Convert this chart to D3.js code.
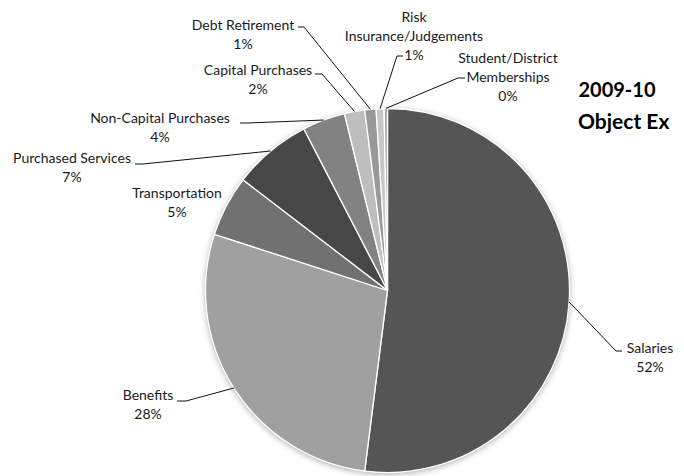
<!DOCTYPE html>
<html>
<head>
<meta charset="utf-8">
<script src="https://d3js.org/d3.v7.min.js"></script>
<style>
body { margin: 0; background: #fff; }
text { font-family: Lato, "Open Sans", sans-serif; fill: #1a1a1a; }
</style>
</head>
<body>
<div id="chart"></div>
<script>

// data (share of total, labels are rounded)
var categories = ["Salaries", "Benefits", "Transportation", "Purchased Services",
  "Non-Capital Purchases", "Capital Purchases", "Debt Retirement",
  "Risk Insurance/Judgements", "Student/District Memberships"];
var values = [52.0, 28.0, 5.4, 7.0, 3.8, 1.8, 1.0, 0.7, 0.3];
var colors = ["#555555", "#a0a0a0", "#717171", "#474747", "#828282",
  "#bebebe", "#999999", "#c8c8c8", "#a7a7a7"];
// how each label breaks into lines
var labelLines = [["Salaries"], ["Benefits"], ["Transportation"], ["Purchased Services"],
  ["Non-Capital Purchases"], ["Capital Purchases"], ["Debt Retirement"],
  ["Risk", "Insurance/Judgements"], ["Student/District", "Memberships"]];
var titleLines = ["2009-10", "Object Ex"];

var width = 684, height = 476;
var cx = 387.5, cy = 290.5, radius = 182;

// label layout: text centre, first line y, leader end + elbow (null = no leader)
var layout = [
  {x: 650, y: 348, end: [622, 351], elbow: [616, 351]},
  {x: 148, y: 395, end: [177, 401], elbow: [186, 401]},
  {x: 177, y: 193, end: null},
  {x: 72,  y: 158, end: [135, 164], elbow: [143, 164]},
  {x: 160, y: 118, end: [240, 123], elbow: [247, 123]},
  {x: 258, y: 70,  end: [315, 74],  elbow: [322, 74]},
  {x: 243, y: 25,  end: [298, 27],  elbow: [304, 27]},
  {x: 414, y: 17,  end: [403, 56],  elbow: [397, 56]},
  {x: 508, y: 58,  end: [465, 78],  elbow: [458, 78]}
];
var lineH = 19;

var svg = d3.select("#chart")
  .append("svg")
    .attr("width", width)
    .attr("height", height);

var defs = svg.append("defs");
var f = defs.append("filter").attr("id", "shadow")
  .attr("x", "-20%").attr("y", "-20%").attr("width", "140%").attr("height", "140%");
f.append("feDropShadow")
  .attr("dx", 0).attr("dy", 1.5)
  .attr("stdDeviation", 3)
  .attr("flood-color", "#000")
  .attr("flood-opacity", 0.35);

var total = d3.sum(values);
var pie = d3.pie().sort(null).value(function(d) { return d; });
var arcs = pie(values);

var arc = d3.arc().innerRadius(0).outerRadius(radius);
var edge = d3.arc().innerRadius(radius).outerRadius(radius);

var g = svg.append("g").attr("transform", "translate(" + cx + "," + cy + ")");

g.append("circle")
  .attr("r", radius)
  .attr("fill", "#fff")
  .attr("filter", "url(#shadow)");

g.selectAll("path.slice")
  .data(arcs)
  .enter()
  .append("path")
    .attr("class", "slice")
    .attr("d", arc)
    .attr("fill", function(d, i) { return colors[i]; })
    .attr("stroke", "#fff")
    .attr("stroke-width", 1.3);

// leader lines
arcs.forEach(function(d, i) {
  var L = layout[i];
  if (!L.end) return;
  var c = edge.centroid(d);
  var pts = [[c[0] + cx, c[1] + cy], L.elbow, L.end];
  svg.append("path")
    .attr("d", d3.line()(pts))
    .attr("fill", "none")
    .attr("stroke", "#111")
    .attr("stroke-width", 1);
});

// labels
arcs.forEach(function(d, i) {
  var L = layout[i];
  var lines = labelLines[i].concat([Math.round(values[i] / total * 100) + "%"]);
  var t = svg.append("text")
    .attr("text-anchor", "middle")
    .attr("font-size", "14px");
  lines.forEach(function(s, j) {
    t.append("tspan")
      .attr("x", L.x)
      .attr("y", L.y + j * lineH)
      .attr("dy", "0.35em")
      .text(s);
  });
});

// title (cut off at the right edge)
svg.append("text")
  .attr("x", 617).attr("y", 90).attr("dy", "0.35em")
  .attr("text-anchor", "middle")
  .attr("font-size", "20px")
  .attr("font-weight", "bold")
  .style("fill", "#000")
  .text(titleLines[0]);
svg.append("text")
  .attr("x", 578).attr("y", 122).attr("dy", "0.35em")
  .attr("font-size", "21px")
  .attr("font-weight", "bold")
  .style("fill", "#000")
  .text(titleLines[1]);

</script>
</body>
</html>
